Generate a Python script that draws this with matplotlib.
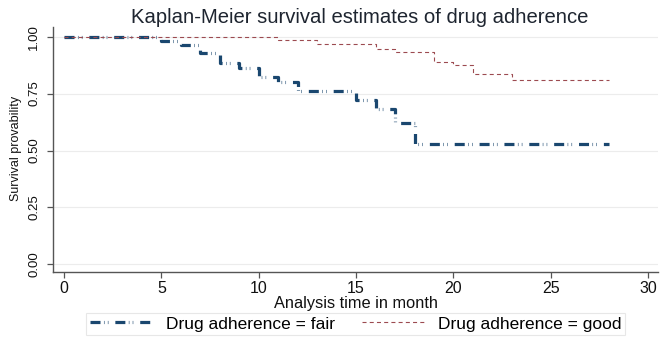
import matplotlib
matplotlib.use("Agg")
import matplotlib.pyplot as plt
from matplotlib.lines import Line2D

plt.rcParams['font.family'] = ['Liberation Sans', 'DejaVu Sans']
plt.rcParams['lines.scale_dashes'] = False

# Kaplan-Meier step estimates (month, survival)
fair_time = [0, 5, 6, 7, 8, 9, 10, 11, 12, 15, 16, 17, 18, 28]
fair_surv = [1.0, 0.982, 0.964, 0.927, 0.883, 0.861, 0.824, 0.802, 0.763,
             0.722, 0.681, 0.620, 0.529, 0.529]

good_time = [0, 11, 13, 16, 17, 19, 20, 21, 23, 28]
good_surv = [1.0, 0.985, 0.967, 0.945, 0.932, 0.888, 0.876, 0.836, 0.810, 0.810]

x_ticks = [0, 5, 10, 15, 20, 25, 30]
y_ticks = [0.0, 0.25, 0.5, 0.75, 1.0]
series_labels = ['Drug adherence = fair', 'Drug adherence = good']

navy = '#1a476f'
maroon = '#9c4a50'
fair_dash = (0, (7.2, 2.5, 0.4, 2.4, 0.4, 5.0))
good_dash = (0, (2.9, 2.3))

fig = plt.figure(figsize=(6.7, 3.45), dpi=100)
ax = fig.add_axes([0.0796, 0.2125, 0.9024, 0.7101])

ax.step(fair_time, fair_surv, where='post', color=navy, lw=2.3,
        linestyle=fair_dash, dash_capstyle='butt', solid_capstyle='butt')
ax.step(good_time, good_surv, where='post', color=maroon, lw=0.8,
        linestyle=good_dash)

ax.set_xlim(-0.55, 30.5)
ax.set_ylim(-0.0325, 1.044)
ax.set_xticks(x_ticks)
ax.set_yticks(y_ticks)
ax.set_yticklabels(['%.2f' % v for v in y_ticks])

for v in y_ticks:
    ax.axhline(v, color='#ececec', lw=0.8, zorder=0)

for side in ['top', 'right']:
    ax.spines[side].set_visible(False)
for side in ['left', 'bottom']:
    ax.spines[side].set_color('#555555')
    ax.spines[side].set_linewidth(1.0)

ax.tick_params(axis='x', length=4, width=0.9, color='#555555',
               labelsize=11.5, pad=3, labelcolor='#111111')
ax.tick_params(axis='y', length=4.5, width=0.9, color='#555555',
               labelsize=9.5, pad=5, labelrotation=90, labelcolor='#111111')
for lab in ax.get_yticklabels():
    lab.set_va('center')

ax.set_xlabel('Analysis time in month', fontsize=11.8, labelpad=-0.5, color='#111111')
fig.text(0.024, 0.571, 'Survival provability', rotation=90, ha='center',
         va='center', fontsize=9, color='#111111')

fig.text(0.537, 0.948, 'Kaplan-Meier survival estimates of drug adherence',
         ha='center', va='center', fontsize=14.6, color='#1e2530')

handles = [
    Line2D([], [], color=navy, lw=2.3, linestyle=fair_dash, dash_capstyle='butt'),
    Line2D([], [], color=maroon, lw=0.8, linestyle=good_dash),
]
leg = fig.legend(handles, series_labels, loc='center',
                 bbox_to_anchor=(0.531, 0.061), ncol=2, fontsize=12.5,
                 handlelength=3.63, handletextpad=0.73, columnspacing=1.6,
                 frameon=True, fancybox=False, borderpad=0.2, borderaxespad=0)
leg.get_frame().set_edgecolor('#e2e2e2')
leg.get_frame().set_linewidth(0.8)

fig.savefig('out.png', dpi=100, facecolor='white')
